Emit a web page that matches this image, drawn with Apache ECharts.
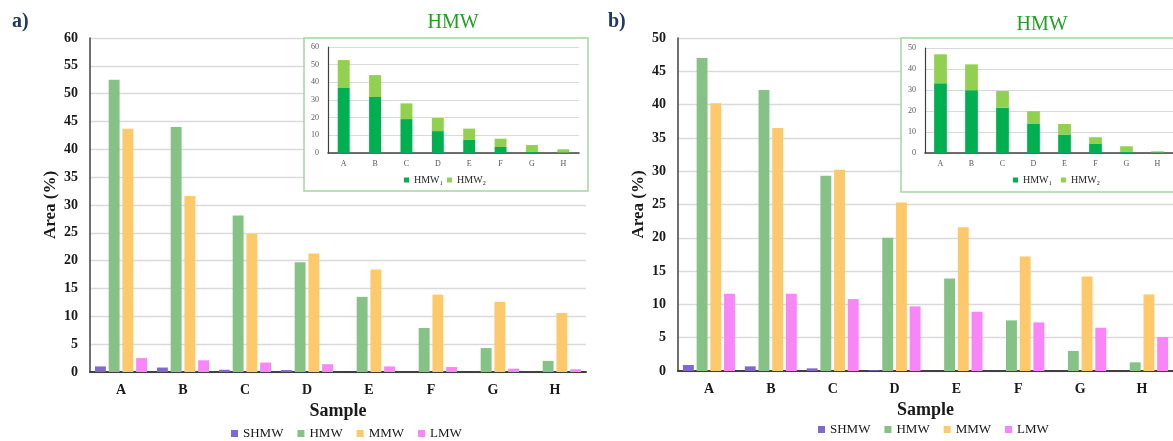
<!DOCTYPE html>
<html><head><meta charset="utf-8">
<script src="https://cdn.jsdelivr.net/npm/echarts@6/dist/echarts.min.js"></script>
<style>html,body{margin:0;padding:0;background:#fff}#c{width:1173px;height:441px}</style>
</head><body><div id="c"></div>
<script>
const categories = ['A','B','C','D','E','F','G','H'];
const seriesNames = ['SHMW','HMW','MMW','LMW'];
const insetNames = ['HMW₁','HMW₂'];
// panel a)
const shmwA = [1.0, 0.8, 0.4, 0.35, 0, 0, 0, 0];
const hmwA  = [52.5, 44.0, 28.1, 19.7, 13.5, 7.9, 4.3, 2.0];
const mmwA  = [43.7, 31.6, 24.8, 21.3, 18.4, 13.9, 12.6, 10.6];
const lmwA  = [2.5, 2.1, 1.7, 1.4, 1.0, 0.9, 0.6, 0.5];
const hmw1A = [36.8, 31.7, 19.2, 12.4, 7.4, 3.4, 0.6, 0.3];
const hmw2A = [15.8, 12.4, 8.9, 7.4, 6.4, 4.7, 3.9, 1.8];
// panel b)
const shmwB = [0.9, 0.7, 0.4, 0.1, 0, 0, 0, 0];
const hmwB  = [47.0, 42.2, 29.3, 20.0, 13.9, 7.6, 3.0, 1.3];
const mmwB  = [40.2, 36.5, 30.2, 25.3, 21.6, 17.2, 14.2, 11.5];
const lmwB  = [11.6, 11.6, 10.8, 9.7, 8.9, 7.3, 6.5, 5.1];
const hmw1B = [33.2, 29.9, 21.6, 13.8, 8.8, 4.3, 0.7, 0.3];
const hmw2B = [13.8, 12.3, 7.9, 6.1, 5.0, 3.2, 2.5, 0.5];

const colors = {SHMW:'#8068d2', HMW:'#86c285', MMW:'#fdc96b', LMW:'#f986f8', H1:'#00b050', H2:'#92d050'};
const FF = 'Liberation Serif';

const chart = echarts.init(document.getElementById('c'), null, {renderer:'canvas'});

function mainX(gi){
  return {type:'category', gridIndex:gi, data:categories,
    axisLine:{lineStyle:{color:'#404040', width:2}}, axisTick:{show:false},
    axisLabel:{color:'#1a1a1a', fontFamily:FF, fontWeight:'bold', fontSize:14, margin:11},
    name:'Sample', nameLocation:'middle', nameGap:27,
    nameTextStyle:{color:'#1a1a1a', fontFamily:FF, fontWeight:'bold', fontSize:18}};
}
function mainY(gi, max){
  return {type:'value', gridIndex:gi, min:0, max:max, interval:5,
    axisLine:{show:true, lineStyle:{color:'#404040', width:1.5}}, axisTick:{show:false},
    splitLine:{lineStyle:{color:'#d9d9d9', width:1.3}},
    axisLabel:{color:'#1a1a1a', fontFamily:FF, fontWeight:'bold', fontSize:14, margin:12},
    name:'Area (%)', nameLocation:'middle', nameGap:31, nameRotate:90,
    nameTextStyle:{color:'#1a1a1a', fontFamily:FF, fontWeight:'bold', fontSize:17}};
}
function insetX(gi){
  return {type:'category', gridIndex:gi, data:categories, z:10,
    axisLine:{lineStyle:{color:'#404040', width:1.5}}, axisTick:{show:false},
    axisLabel:{color:'#595959', fontFamily:FF, fontSize:8, margin:7}};
}
function insetY(gi, max){
  return {type:'value', gridIndex:gi, min:0, max:max, interval:10, z:10,
    axisLine:{show:true, lineStyle:{color:'#404040', width:1.2}}, axisTick:{show:false},
    splitLine:{lineStyle:{color:'#d9d9d9'}},
    axisLabel:{color:'#595959', fontFamily:FF, fontSize:8, margin:9}};
}
function mainSeries(xi, arrs){
  return seriesNames.map((n,i)=>({name:n, type:'bar', xAxisIndex:xi, yAxisIndex:xi, data:arrs[i],
    barGap:'26%', barCategoryGap:'16%', itemStyle:{color:colors[n]}}));
}
function insetSeries(xi, a1, a2, stack, gapPct){
  return [
    {name:insetNames[0], type:'bar', stack:stack, xAxisIndex:xi, yAxisIndex:xi, data:a1, z:11,
      barCategoryGap:gapPct, itemStyle:{color:colors.H1}},
    {name:insetNames[1], type:'bar', stack:stack, xAxisIndex:xi, yAxisIndex:xi, data:a2, z:11,
      barCategoryGap:gapPct, itemStyle:{color:colors.H2}}
  ];
}

const legendText = {fontFamily:FF, fontSize:13, color:'#1a1a1a'};
const option = {
  animation:false,
  grid:[
    {left:90, top:38, width:496, height:334},
    {left:328, top:47, width:251, height:106, z:10},
    {left:678, top:38, width:506, height:333},
    {left:925, top:48, width:250, height:105, z:10}
  ],
  xAxis:[mainX(0), insetX(1), mainX(2), insetX(3)],
  yAxis:[mainY(0,60), insetY(1,60), mainY(2,50), insetY(3,50)],
  legend:[
    {data:seriesNames, left:231, top:427, padding:0, icon:'rect', itemWidth:7, itemHeight:7, itemGap:14, textStyle:legendText},
    {data:seriesNames, left:818, top:423, padding:0, icon:'rect', itemWidth:7, itemHeight:7, itemGap:14, textStyle:legendText},
    {data:insetNames, left:404, top:175, padding:0, icon:'rect', itemWidth:5, itemHeight:5, itemGap:4, z:12,
      textStyle:{fontFamily:FF, fontSize:10, color:'#262626'}},
    {data:insetNames, left:1013, top:175, padding:0, icon:'rect', itemWidth:5, itemHeight:5, itemGap:9, z:12,
      textStyle:{fontFamily:FF, fontSize:10, color:'#262626'}}
  ],
  graphic:[
    {type:'rect', z:5, shape:{x:304, y:38, width:284, height:153}, style:{fill:'#fff', stroke:'#a3d6a0', lineWidth:1.5}},
    {type:'rect', z:5, shape:{x:901, y:38, width:290, height:154}, style:{fill:'#fff', stroke:'#a3d6a0', lineWidth:1.5}},
    {type:'text', z:20, left:12, top:12, style:{text:'a)', fill:'#1f3864', font:'bold 20px "Liberation Serif"'}},
    {type:'text', z:20, left:608, top:12, style:{text:'b)', fill:'#1f3864', font:'bold 20px "Liberation Serif"'}},
    {type:'text', z:20, x:453, y:13, style:{text:'HMW', fill:'#21a021', font:'20px "Liberation Serif"', align:'center'}},
    {type:'text', z:20, x:1042, y:15, style:{text:'HMW', fill:'#21a021', font:'20px "Liberation Serif"', align:'center'}}
  ],
  series:[
    ...mainSeries(0, [shmwA, hmwA, mmwA, lmwA]),
    ...insetSeries(1, hmw1A, hmw2A, 'sa', '62%'),
    ...mainSeries(2, [shmwB, hmwB, mmwB, lmwB]),
    ...insetSeries(3, hmw1B, hmw2B, 'sb', '59%')
  ]
};
chart.setOption(option);
</script></body></html>
